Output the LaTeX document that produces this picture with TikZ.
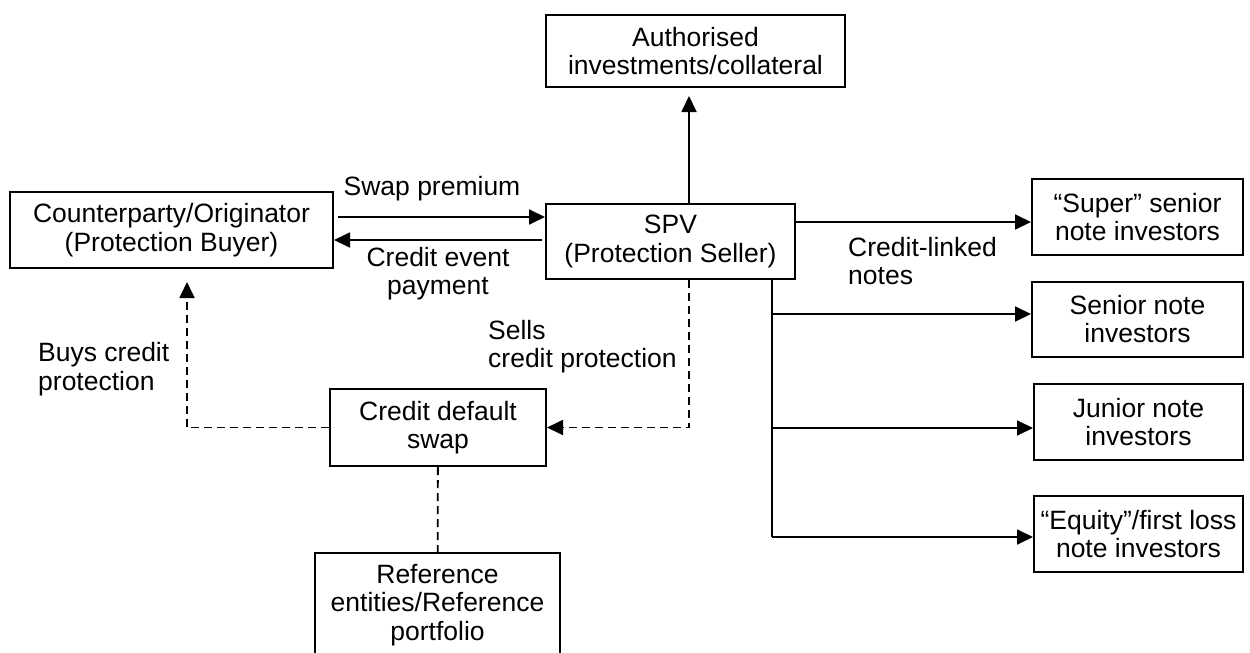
\documentclass[tikz,border=0pt]{standalone}
\usepackage{fontspec}
\setmainfont{Liberation Sans}
\usepackage{tikz}
\usetikzlibrary{arrows.meta}
\newcommand{\boxline}{2pt}
\newcommand{\arrline}{1.8pt}

\begin{document}
\begin{tikzpicture}[x=1pt,y=-1pt,
    font=\fontsize{26.5}{28.5}\selectfont,
    box/.style={draw, line width=\boxline, align=center, inner sep=0pt},
    lab/.style={inner sep=0pt, align=left},
    arr/.style={line width=\arrline, -{Triangle[length=16pt,width=15pt]}},
    dashline/.style={line width=\arrline, dash pattern=on 8pt off 5pt}]

        \useasboundingbox[fill=white] (0,0) rectangle (1250,653);

        \node (auth) at (695.5,51) [box, minimum width=299, minimum height=72] {Authorised\\investments/collateral};
        \node (cpty) at (171.5,230) [box, minimum width=323, minimum height=76] {Counterparty/Originator\\(Protection Buyer)};
        \node (spv) at (670.5,241.5) [box, minimum width=249, minimum height=75] {SPV\\(Protection Seller)};
        \node (super) at (1137.5,217) [box, minimum width=211, minimum height=76] {“Super” senior\\note investors};
        \node (senior) at (1137.5,319) [box, minimum width=211, minimum height=75] {Senior note\\investors};
        \node (junior) at (1138.5,422) [box, minimum width=209, minimum height=76] {Junior note\\investors};
        \node (equity) at (1138.5,534) [box, minimum width=209, minimum height=76] {“Equity”/first loss\\note investors};
        \node (cds) at (438,427.5) [box, minimum width=216, minimum height=77] {Credit default\\swap};
        \node (ref) at (437.5,605) [box, minimum width=245, minimum height=104] {Reference\\entities/Reference\\portfolio};

        \node (swaplab) at (432,189) [lab] {Swap premium};
        \node (eventlab) at (438,273.5) [lab, align=center] {Credit event\\payment};
        \node (sellslab) at (488,346.5) [lab, anchor=west] {Sells\\credit protection};
        \node (buyslab) at (38,369) [lab, anchor=west] {Buys credit\\protection};
        \node (noteslab) at (848,261) [lab, anchor=west] {Credit-linked\\notes};

        \coordinate (upx) at (689,0);
        \coordinate (buyx) at (187,0);
        \coordinate (bsuper) at (772,222);
        \coordinate (bsenior) at (772,314);
        \coordinate (bjunior) at (772,428);
        \coordinate (bequity) at (772,537);

        \draw[arr, shorten >=8pt] (spv.north -| upx) to (auth.south -| upx);
        \draw[arr, shorten <=4pt] ([yshift=13pt]cpty.east) to ([yshift=13pt]cpty.east -| spv.west);
        \draw[arr, shorten <=3pt] ([yshift=-10pt]cpty.east -| spv.west) to ([yshift=-10pt]cpty.east);
        \draw[arr] (spv.east |- bsuper) to (bsuper -| super.west);

        \draw[line width=\arrline] (spv.south -| bequity) to (bequity);
        \foreach \n in {senior,junior,equity}
          \draw[arr] (b\n) to (b\n -| \n.west);

        \draw[dashline, arr, shorten >=13pt] (cds.west) -| (cpty.south -| buyx);
        \draw[dashline, arr] (spv.south -| upx) |- (cds.east);
        \draw[dashline] (cds) to (ref);

\end{tikzpicture}
\end{document}
